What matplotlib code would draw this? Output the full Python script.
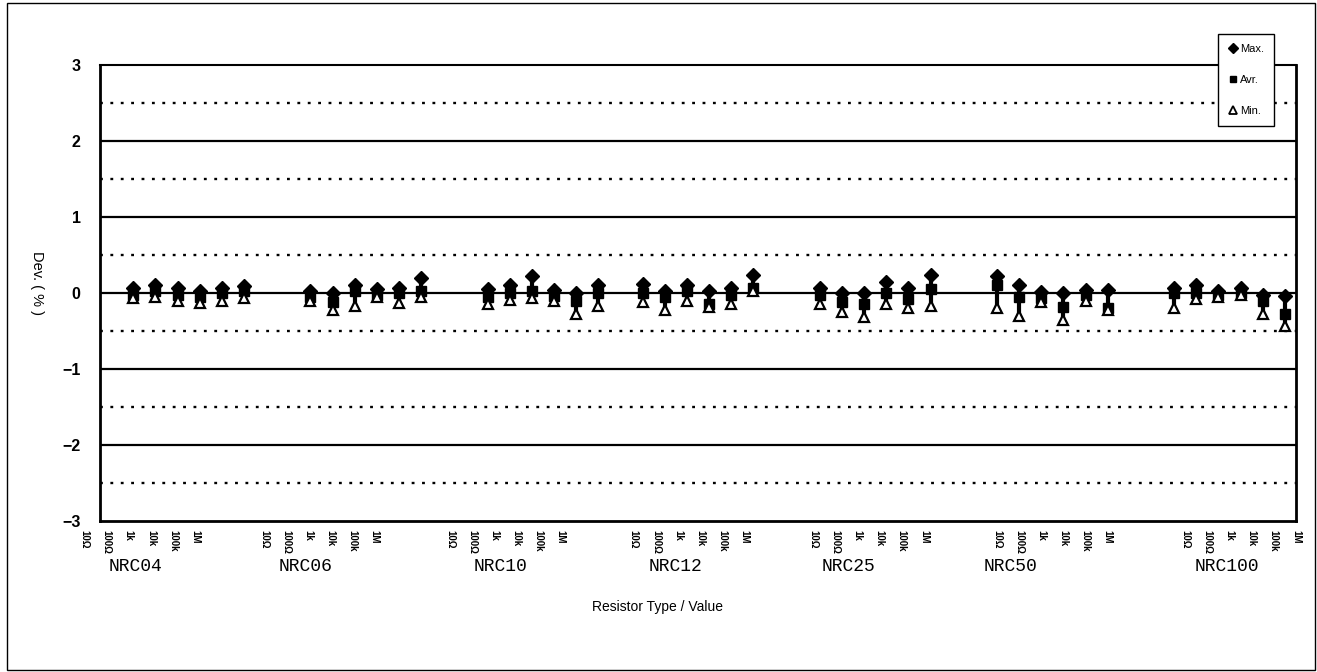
import numpy as np
import matplotlib
matplotlib.use('Agg')
import matplotlib.pyplot as plt
from matplotlib.patches import Rectangle
from matplotlib.lines import Line2D

# data (Dev. %)
groups = ['NRC04', 'NRC06', 'NRC10', 'NRC12', 'NRC25', 'NRC50', 'NRC100']
values = ['10Ω', '100Ω', '1k', '10k', '100k', '1M']

dev_max = [
    [0.07, 0.10, 0.07, 0.03, 0.07, 0.09],
    [0.02, 0.00, 0.11, 0.05, 0.07, 0.20],
    [0.05, 0.10, 0.23, 0.04, 0.00, 0.10],
    [0.12, 0.02, 0.10, 0.02, 0.06, 0.24],
    [0.06, 0.00, 0.00, 0.15, 0.07, 0.24],
    [0.23, 0.11, 0.01, 0.00, 0.04, 0.04],
    [0.07, 0.10, 0.03, 0.06, -0.02, -0.04],
]
dev_avr = [
    [-0.02, 0.02, -0.02, -0.05, 0.00, 0.02],
    [-0.05, -0.12, 0.02, -0.03, 0.00, 0.02],
    [-0.05, 0.00, 0.02, -0.04, -0.10, 0.00],
    [0.00, -0.05, 0.02, -0.15, -0.03, 0.07],
    [-0.02, -0.12, -0.15, 0.00, -0.08, 0.05],
    [0.10, -0.05, -0.07, -0.18, -0.02, -0.20],
    [0.00, 0.00, -0.02, 0.00, -0.10, -0.28],
]
dev_min = [
    [-0.07, -0.05, -0.10, -0.13, -0.10, -0.07],
    [-0.10, -0.22, -0.17, -0.05, -0.13, -0.05],
    [-0.14, -0.09, -0.06, -0.11, -0.27, -0.17],
    [-0.12, -0.22, -0.10, -0.18, -0.15, 0.03],
    [-0.14, -0.25, -0.32, -0.15, -0.20, -0.17],
    [-0.20, -0.30, -0.12, -0.36, -0.10, -0.22],
    [-0.20, -0.08, -0.05, -0.03, -0.27, -0.43],
]

# layout (category slots)
group_start = [1, 9, 17, 24, 32, 40, 48]
label_shift = [-2.2, -2.1, -1.7, -0.4, -0.3, 0.0, 0.5]
group_label_x = [1.6, 9.3, 18.1, 26.0, 33.8, 41.1, 50.9]

plt.rcParams['font.family'] = ['Liberation Sans', 'DejaVu Sans']

fig = plt.figure(figsize=(13.17, 6.72), dpi=100)
ax = fig.add_axes([100/1317, 1-521/672, 1196/1317, 456/672])

# grid lines
for y in [-2, -1, 0, 1, 2]:
    ax.axhline(y, color='black', lw=1.6, zorder=1)
for y in [-2.5, -1.5, -0.5, 0.5, 1.5, 2.5]:
    ax.axhline(y, color='black', lw=1.7, ls=(0, (1.2, 3.2)), zorder=1)

for g in range(len(groups)):
    x = np.arange(6) + group_start[g] + 0.5
    ax.vlines(x, dev_min[g], dev_max[g], color='black', lw=3, zorder=2)
    ax.plot(x, dev_max[g], 'D', ms=7.5, color='black', ls='none', zorder=3)
    ax.plot(x, dev_avr[g], 's', ms=7.5, color='black', ls='none', zorder=4)
    ax.plot(x, dev_min[g], '^', ms=7, mfc='white', mec='black', mew=1.6,
            ls='none', zorder=5)

    # value labels under the axis
    for j, v in enumerate(values):
        ax.text(x[j] + label_shift[g], -0.02, v, transform=ax.get_xaxis_transform(),
                rotation=270, ha='center', va='top', fontsize=7,
                fontweight='bold', clip_on=False)
    ax.text(group_label_x[g], -0.082, groups[g], transform=ax.get_xaxis_transform(),
            ha='center', va='top', fontsize=13, family='Liberation Mono',
            clip_on=False)

ax.set_xlim(0, 54)
ax.set_ylim(-3, 3)
ax.set_xticks([])
ax.set_yticks([-3, -2, -1, 0, 1, 2, 3])
ax.tick_params(axis='y', length=0, pad=14, labelsize=11.5)
for lab in ax.get_yticklabels():
    lab.set_fontweight('bold')
for s in ax.spines.values():
    s.set_linewidth(2)
ax.spines['top'].set_linewidth(1.5)

fig.text(37/1317, 1-283/672, 'Dev. ( % )', rotation=270, ha='center', va='center',
         fontsize=10.5)
fig.text(658/1317, 1-607/672, 'Resistor Type / Value', ha='center', va='center',
         fontsize=10)

handles = [
    Line2D([], [], marker='D', color='black', ls='none', ms=5),
    Line2D([], [], marker='s', color='black', ls='none', ms=5),
    Line2D([], [], marker='^', mfc='white', mec='black', mew=1.3, ls='none', ms=6),
]
leg = fig.legend(handles, ['Max.', 'Avr.', 'Min.'], loc='upper right',
                 bbox_to_anchor=(1280/1317, 1-28/672), fontsize=8,
                 labelspacing=1.9, handlelength=0.8, handletextpad=0.3,
                 borderpad=0.9, fancybox=False, framealpha=1, edgecolor='black')
leg.get_frame().set_linewidth(1)

fig.patches.append(Rectangle((7/1317, 2/672), 1308/1317, 667/672, fill=False,
                             lw=1, edgecolor='black', transform=fig.transFigure))

fig.savefig('out.png', dpi=100)
